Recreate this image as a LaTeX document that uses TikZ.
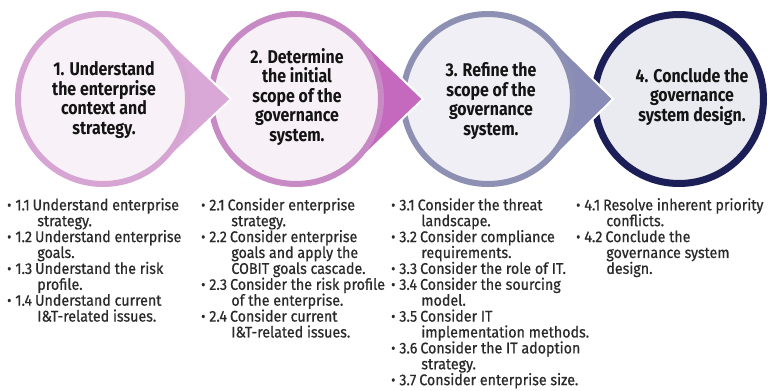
\documentclass[tikz,border=0pt]{standalone}
\usepackage{fontspec}
\setmainfont{Fira Sans}[FakeStretch=0.86]
\newfontfamily\medfont{Fira Sans}[FakeStretch=0.92, FakeBold=0.6]
\definecolor{ringA}{HTML}{D6A5D3}
\definecolor{arrA}{HTML}{DAA8D7}
\definecolor{inA}{HTML}{F8F1F7}
\definecolor{ringB}{HTML}{C88AC4}
\definecolor{arrB}{HTML}{C569BE}
\definecolor{inB}{HTML}{F7F0F6}
\definecolor{ringC}{HTML}{8D8FB3}
\definecolor{arrC}{HTML}{8A8CB8}
\definecolor{inC}{HTML}{EFEFF5}
\definecolor{ringD}{HTML}{1C1F57}
\definecolor{inD}{HTML}{EAEBF1}
\definecolor{txt}{HTML}{2A2A2A}
\newcommand\bul{{\fontsize{14}{14}\selectfont\raisebox{0.05ex}{•}}\hspace{4pt}}
\newcommand\ind{\phantom{\bul0.0\hspace{3pt}}}
\begin{document}
\setlength{\lineskiplimit}{-20pt}
\begin{tikzpicture}[x=1pt,y=-1pt,
  head/.style={align=center, font=\fontsize{18.5}{19.5}\selectfont\bfseries, text=black!92, inner sep=0},
  lst/.style={anchor=north west, inner sep=0, align=left, font=\medfont\fontsize{15.5}{15.9}\selectfont, text=txt},
  ring/.style={line width=6pt}]
\useasboundingbox (0,0) rectangle (772,391);
\fill[white] (0,0) rectangle (772,391);
\coordinate (c1) at (103,99);
\coordinate (c2) at (296,99);
\coordinate (c3) at (488,99);
\coordinate (c4) at (679,99);
\coordinate (t1) at (231,99);
\coordinate (t2) at (423,99);
\coordinate (t3) at (613,99);
% circle 4
\draw[ring, line width=7pt, draw=ringD, fill=inD] (c4) circle (84.5);
% teardrop 3
\path[fill=arrC, draw=white, line width=2pt]
  (c3) ++(46:88) arc[start angle=46, end angle=314, radius=88] -- (t3) -- cycle;
\draw[ring, draw=ringC, fill=inC] (c3) circle (85);
% teardrop 2
\path[fill=arrB, draw=white, line width=2pt]
  (c2) ++(46.6:88) arc[start angle=46.6, end angle=313.4, radius=88] -- (t2) -- cycle;
\draw[ring, draw=ringB, fill=inB] (c2) circle (85);
% teardrop 1
\path[fill=arrA, draw=white, line width=2pt]
  (c1) ++(46.6:88) arc[start angle=46.6, end angle=313.4, radius=88] -- (t1) -- cycle;
\draw[ring, draw=ringA, fill=inA] (c1) circle (85);
% headings
\node[head] (h1) at (104,100) {1. Understand\\the enterprise\\context and\\strategy.};
\node[head] (h2) at (297,97) {2. Determine\\the initial\\scope of the\\governance\\system.};
\node[head] (h3) at (491,101) {3. Refine the\\scope of the\\governance\\system.};
\node[head] (h4) at (692,97) {4. Conclude the\\governance\\system design.};
% lists
\node[lst] (l1) at (7,198) {\bul1.1\hspace{3pt}Understand enterprise\\ \ind strategy.\\
\bul1.2\hspace{3pt}Understand enterprise\\ \ind goals.\\
\bul1.3\hspace{3pt}Understand the risk\\ \ind profile.\\
\bul1.4\hspace{3pt}Understand current\\ \ind I\&T-related issues.};
\node[lst] (l2) at (201,198) {\bul2.1\hspace{3pt}Consider enterprise\\ \ind strategy.\\
\bul2.2\hspace{3pt}Consider enterprise\\ \ind goals and apply the\\ \ind COBIT goals cascade.\\
\bul2.3\hspace{3pt}Consider the risk profile\\ \ind of the enterprise.\\
\bul2.4\hspace{3pt}Consider current\\ \ind I\&T-related issues.};
\node[lst] (l3) at (391,198) {\bul3.1\hspace{3pt}Consider the threat\\ \ind landscape.\\
\bul3.2\hspace{3pt}Consider compliance\\ \ind requirements.\\
\bul3.3\hspace{3pt}Consider the role of IT.\\
\bul3.4\hspace{3pt}Consider the sourcing\\ \ind model.\\
\bul3.5\hspace{3pt}Consider IT\\ \ind implementation methods.\\
\bul3.6\hspace{3pt}Consider the IT adoption\\ \ind strategy.\\
\bul3.7\hspace{3pt}Consider enterprise size.};
\node[lst] (l4) at (576,198) {\bul4.1\hspace{3pt}Resolve inherent priority\\ \ind conflicts.\\
\bul4.2\hspace{3pt}Conclude the\\ \ind governance system\\ \ind design.};
\end{tikzpicture}
\end{document}
